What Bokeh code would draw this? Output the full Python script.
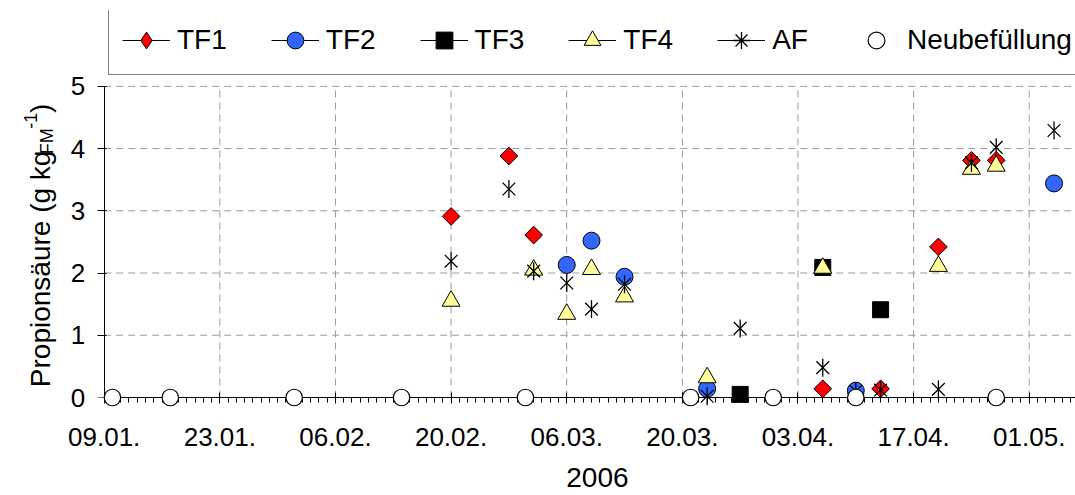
import numpy as np
import pandas as pd
from bokeh.plotting import figure
from bokeh.models import (Range1d, FixedTicker, DatetimeTickFormatter,
                          CustomJSTickFormatter, Legend, LegendItem, Label)
from bokeh.core.properties import value
from bokeh.embed import file_html
from bokeh.resources import INLINE

# ---------------- data ----------------
X_LABEL = "2006"
Y_LABEL_MAIN = "Propionsäure (g kg"
Y_LABEL_SUB = "FM"
Y_LABEL_SUP = "-1"
Y_LABEL_END = " )"

AXIS_START = "2006-01-09 00:00"
AXIS_END = "2006-05-06 14:24"
TICK_DATES = ["2006-01-09", "2006-01-23", "2006-02-06", "2006-02-20", "2006-03-06",
              "2006-03-20", "2006-04-03", "2006-04-17", "2006-05-01"]
TICK_LABELS = ["09.01.", "23.01.", "06.02.", "20.02.", "06.03.",
               "20.03.", "03.04.", "17.04.", "01.05."]
Y_TICKS = [0, 1, 2, 3, 4, 5]
Y_TICK_LABELS = ["0", "1", "2", "3", "4", "5"]

SERIES = ["TF1", "TF2", "TF3", "TF4", "AF", "Neubefüllung"]

TF1_DATES = ["2006-02-20", "2006-02-27", "2006-03-02", "2006-04-06", "2006-04-13",
             "2006-04-20", "2006-04-24", "2006-04-27"]
TF1_VALUES = [2.91, 3.88, 2.61, 0.14, 0.14, 2.42, 3.81, 3.81]

TF2_DATES = ["2006-03-06", "2006-03-09", "2006-03-13", "2006-03-23", "2006-04-10",
             "2006-05-04"]
TF2_VALUES = [2.13, 2.52, 1.94, 0.14, 0.11, 3.44]

TF3_DATES = ["2006-03-27", "2006-04-06", "2006-04-13"]
TF3_VALUES = [0.05, 2.09, 1.41]

TF4_DATES = ["2006-02-20", "2006-03-02", "2006-03-06", "2006-03-09", "2006-03-13",
             "2006-03-23", "2006-04-06", "2006-04-20", "2006-04-24", "2006-04-27"]
TF4_VALUES = [1.55, 2.05, 1.34, 2.06, 1.62, 0.32, 2.08, 2.11, 3.67, 3.72]

AF_DATES = ["2006-02-20", "2006-02-27", "2006-03-02", "2006-03-06", "2006-03-09",
            "2006-03-13", "2006-03-23", "2006-03-27", "2006-04-06", "2006-04-10",
            "2006-04-13", "2006-04-20", "2006-04-24", "2006-04-27", "2006-05-04"]
AF_VALUES = [2.19, 3.35, 2.03, 1.84, 1.42, 1.82, 0.02, 1.11, 0.48, 0.10,
             0.12, 0.13, 3.77, 4.02, 4.29]

NEU_DATES = ["2006-01-10", "2006-01-17", "2006-02-01", "2006-02-14", "2006-03-01",
             "2006-03-21", "2006-03-31", "2006-04-10", "2006-04-27"]
NEU_VALUES = [0, 0, 0, 0, 0, 0, 0, 0, 0]

# ---------------- layout / styling ----------------
FONT = "Liberation Sans"
RED = "#FF0000"
BLUE = "#3366FF"
YELLOW = "#FFFF99"
GRID = "#9a9a9a"

W, H = 1075, 495
BORDER_L, BORDER_T, BORDER_B = 10, 10, 92
AXIS_PX_X = 103.7         # where the y axis sits (page px)
AXIS_PX_Y = H - BORDER_B  # where the x axis sits (page px)
PX_PER_DAY = (W - AXIS_PX_X) / 117.6
PX_PER_UNIT = (AXIS_PX_Y - 87.0) / 5.0
DAY_MS = 86400000.0


def dt(lst):
    return pd.to_datetime(lst)


def ms(s):
    return pd.Timestamp(s).value / 1e6


x0, x1 = ms(AXIS_START), ms(AXIS_END)
xs = x0 - (AXIS_PX_X - BORDER_L) / PX_PER_DAY * DAY_MS
ytop = (AXIS_PX_Y - BORDER_T) / PX_PER_UNIT


def px2x(px):
    return x0 + (px - AXIS_PX_X) / PX_PER_DAY * DAY_MS


def px2y(py):
    return (AXIS_PX_Y - py) / PX_PER_UNIT


p = figure(width=W, height=H, output_backend="svg", toolbar_location=None,
           x_axis_type="datetime", x_range=Range1d(xs, x1), y_range=Range1d(0, ytop),
           min_border_left=BORDER_L, min_border_right=0, min_border_top=BORDER_T,
           min_border_bottom=BORDER_B)
p.title.visible = False
p.outline_line_color = None
p.background_fill_color = "white"
p.border_fill_color = "white"
p.xgrid.visible = False
p.ygrid.visible = False

# x axis
major = [ms(d) for d in TICK_DATES]
minor = [ms(d) for d in pd.date_range(AXIS_START[:10], AXIS_END[:10], freq="D")]
p.xaxis.ticker = FixedTicker(ticks=major, minor_ticks=minor)
p.xaxis.bounds = (x0, x1)
fmt = "%d.%m."
p.xaxis.formatter = DatetimeTickFormatter(days=fmt, months=fmt, years=fmt, hours=fmt,
                                          hourmin=fmt, minutes=fmt, minsec=fmt,
                                          seconds=fmt, milliseconds=fmt,
                                          microseconds=fmt)
# the axis title is centred on the frame; non-breaking spaces move it under the data area
p.xaxis.axis_label = "\u00a0" * 14 + X_LABEL
p.xaxis.axis_label_text_font = FONT
p.xaxis.axis_label_text_font_size = "28px"
p.xaxis.axis_label_text_font_style = "normal"
p.xaxis.axis_label_text_color = "black"
p.xaxis.axis_label_standoff = 13
p.xaxis.major_label_text_font = FONT
p.xaxis.major_label_text_font_size = "26px"
p.xaxis.major_label_text_color = "black"
p.xaxis.major_label_standoff = 24
p.xaxis.major_tick_in = 5
p.xaxis.major_tick_out = 6
p.xaxis.minor_tick_in = 0
p.xaxis.minor_tick_out = 5
p.xaxis.axis_line_color = "black"
p.xaxis.major_tick_line_color = "black"
p.xaxis.minor_tick_line_color = "black"

# y axis: drawn at the first date; its numbers are drawn as text at the ticks
p.yaxis.ticker = FixedTicker(ticks=Y_TICKS, minor_ticks=[])
p.yaxis.fixed_location = x0
p.yaxis.bounds = (Y_TICKS[0], Y_TICKS[-1])
p.yaxis.formatter = CustomJSTickFormatter(code="return ''")
p.yaxis.major_label_standoff = 0
p.yaxis.major_tick_in = 2
p.yaxis.major_tick_out = 7
p.yaxis.minor_tick_in = 0
p.yaxis.minor_tick_out = 0
p.yaxis.axis_line_color = "black"
p.yaxis.major_tick_line_color = "black"

# dashed grid (limited to the data area)
p.segment(x0=major[1:], x1=major[1:], y0=[Y_TICKS[0]] * (len(major) - 1),
          y1=[Y_TICKS[-1]] * (len(major) - 1), line_color=GRID, line_dash="7 5",
          line_width=1, level="underlay")
p.segment(x0=[x0] * (len(Y_TICKS) - 1), x1=[x1] * (len(Y_TICKS) - 1),
          y0=Y_TICKS[1:], y1=Y_TICKS[1:], line_color=GRID, line_dash="7 5",
          line_width=1, level="underlay")

# y tick numbers
p.text(x=[x0] * len(Y_TICKS), y=Y_TICKS, text=Y_TICK_LABELS, x_offset=-19,
       text_align="right", text_baseline="middle", text_font=value(FONT),
       text_font_size="26px", text_color="black", level="overlay")

# ---------------- glyphs ----------------
LVL = "overlay"
r_tf1 = p.scatter(dt(TF1_DATES), TF1_VALUES, marker="square", size=12.5, angle=np.pi / 4,
                  fill_color=RED, line_color="black", line_width=1, level=LVL)
r_tf2 = p.scatter(dt(TF2_DATES), TF2_VALUES, marker="circle", size=17,
                  fill_color=BLUE, line_color="black", line_width=1, level=LVL)
r_tf3 = p.scatter(dt(TF3_DATES), TF3_VALUES, marker="square", size=16,
                  fill_color="black", line_color="black", line_width=1, level=LVL)
r_tf4 = p.scatter(dt(TF4_DATES), TF4_VALUES, marker="triangle", size=18,
                  fill_color=YELLOW, line_color="black", line_width=1, level=LVL)
r_afx = p.scatter(dt(AF_DATES), AF_VALUES, marker="x", size=18,
                  line_color="black", line_width=1.3, level=LVL)
r_afv = p.scatter(dt(AF_DATES), AF_VALUES, marker="dash", size=18, angle=np.pi / 2,
                  line_color="black", line_width=1.3, level=LVL)
r_neu = p.scatter(dt(NEU_DATES), NEU_VALUES, marker="circle", size=16.5,
                  fill_color="white", line_color="black", line_width=1.2, level=LVL)

# legend-only renderers (a single undrawn NaN point each)
nan_x = dt([AXIS_START[:10], AXIS_START[:10]])
leg_line = p.line(x=nan_x, y=[np.nan, np.nan], line_color="black", line_width=1)
leg_dia = p.scatter(x=nan_x[:1], y=[np.nan], marker="diamond", size=17, fill_color=RED,
                    line_color="black", line_width=1)
leg_ast = p.scatter(x=nan_x[:1], y=[np.nan], marker="asterisk", size=17,
                    line_color="black", line_width=1.3)

items = [
    LegendItem(label=SERIES[0], renderers=[leg_line, leg_dia]),
    LegendItem(label=SERIES[1], renderers=[leg_line, r_tf2]),
    LegendItem(label=SERIES[2], renderers=[leg_line, r_tf3]),
    LegendItem(label=SERIES[3], renderers=[leg_line, r_tf4]),
    LegendItem(label=SERIES[4], renderers=[leg_line, leg_ast]),
    LegendItem(label=SERIES[5], renderers=[r_neu]),
]
legend = Legend(items=items, orientation="horizontal",
                location=(108 - BORDER_L, AXIS_PX_Y - 81),
                label_text_font=FONT, label_text_font_size="28px",
                label_text_color="black", glyph_width=48, glyph_height=42,
                label_standoff=7, spacing=44, padding=13, margin=0,
                border_line_color="black", border_line_width=1,
                background_fill_color="white", background_fill_alpha=1)
p.add_layout(legend)

# ---------------- y axis title (with sub/superscript) ----------------
BX = 40.0        # baseline of the rotated title (page px)
Y0 = 392.5       # lower end of the title (page px)
main_w, sub_w, sup_w = 236.5, 26.0, 16.0
common = dict(angle=np.pi / 2, text_font=FONT, text_align="left",
              text_baseline="alphabetic", text_color="black")
p.add_layout(Label(x=px2x(BX), y=px2y(Y0), text=Y_LABEL_MAIN,
                   text_font_size="28px", **common))
p.add_layout(Label(x=px2x(BX + 6), y=px2y(Y0 - main_w), text=Y_LABEL_SUB,
                   text_font_size="18px", **common))
p.add_layout(Label(x=px2x(BX - 10), y=px2y(Y0 - main_w - sub_w), text=Y_LABEL_SUP,
                   text_font_size="18px", **common))
p.add_layout(Label(x=px2x(BX), y=px2y(Y0 - main_w - sub_w - sup_w), text=Y_LABEL_END,
                   text_font_size="28px", **common))

open("out.html", "w").write(file_html(p, INLINE))
